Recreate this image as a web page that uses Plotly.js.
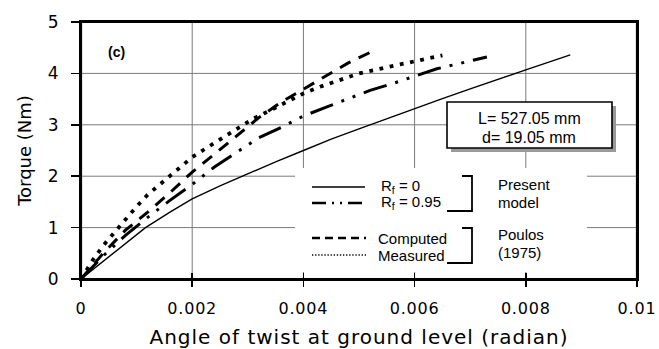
<!DOCTYPE html>
<html>
<head>
<meta charset="utf-8">
<script src="https://cdn.plot.ly/plotly-3.0.1.min.js"></script>
<style>
  html, body { margin: 0; padding: 0; background: #fff; }
  #chart { width: 659px; height: 349px; }
  .xtitle { letter-spacing: 1px; }
  .xtick text { letter-spacing: 0.8px; }
</style>
</head>
<body>
<div id="chart"></div>
<script>
// Present model, Rf = 0 (torque vs. angle of twist)
const twistRf0  = [0, 0.0004, 0.0008, 0.00116, 0.0016, 0.002, 0.0025, 0.003, 0.0035, 0.004, 0.0045, 0.005, 0.0055, 0.006, 0.0065, 0.007, 0.0075, 0.008, 0.0088];
const torqueRf0 = [0, 0.35, 0.69, 1.0, 1.3, 1.56, 1.81, 2.05, 2.28, 2.5, 2.72, 2.92, 3.12, 3.32, 3.51, 3.7, 3.89, 4.07, 4.36];

// Present model, Rf = 0.95
const twistRf95  = [0, 0.0004, 0.0008, 0.0012, 0.0016, 0.002, 0.0024, 0.0028, 0.0032, 0.0036, 0.004, 0.0044, 0.0048, 0.0052, 0.0056, 0.006, 0.0064, 0.0068, 0.0073];
const torqueRf95 = [0, 0.45, 0.85, 1.2, 1.53, 1.84, 2.18, 2.47, 2.75, 2.95, 3.17, 3.34, 3.5, 3.67, 3.8, 3.95, 4.09, 4.19, 4.32];

// Poulos (1975), computed
const twistComputed  = [0, 0.0004, 0.0008, 0.0012, 0.0016, 0.002, 0.0024, 0.0028, 0.0032, 0.0036, 0.004, 0.0044, 0.0048, 0.0053];
const torqueComputed = [0, 0.5, 0.95, 1.3, 1.68, 2.08, 2.43, 2.79, 3.14, 3.44, 3.69, 3.95, 4.2, 4.46];

// Poulos (1975), measured
const twistMeasured  = [0, 0.0002, 0.0004, 0.0006, 0.0008, 0.001, 0.0012, 0.0014, 0.0016, 0.0018, 0.002, 0.0022, 0.0025, 0.0028, 0.0031, 0.0034, 0.0037, 0.004, 0.0043, 0.0046, 0.005, 0.0055, 0.006, 0.0065];
const torqueMeasured = [0, 0.35, 0.65, 0.9, 1.17, 1.41, 1.64, 1.82, 2.0, 2.19, 2.37, 2.51, 2.72, 2.92, 3.12, 3.28, 3.45, 3.61, 3.74, 3.85, 4.0, 4.12, 4.23, 4.35];

// Axis ticks
const xTickVals  = [0, 0.002, 0.004, 0.006, 0.008, 0.01];
const xTickText  = ['0', '0.002', '0.004', '0.006', '0.008', '0.01'];
const yTickVals  = [0, 1, 2, 3, 4, 5];

// Legend entries and notes
const legendPresent = ['R<sub>f</sub> = 0', 'R<sub>f</sub> = 0.95'];
const legendPoulos  = ['Computed', 'Measured'];
const groupPresent  = ['Present', 'model'];
const groupPoulos   = ['Poulos', '(1975)'];
const pileNote      = ['L= 527.05 mm', 'd= 19.05 mm'];
const panelTag      = '(c)';

const DASHDOT2 = '24px,9px,3px,9px,3px,9px';
const LEG_DASHDOT2 = '14px,6px,2px,6px,2px,6px';
const GRID = '#7a7a7a';

// plot area in page pixels: x 81..637, y 22..279
const L = 81, R = 637, T = 22, B = 279;
const px = x => (x - L) / (R - L);
const py = y => (B - y) / (B - T);

const traces = [
  { x: twistRf0, y: torqueRf0, mode: 'lines', line: { color: '#000', width: 1.4 }, hoverinfo: 'skip' },
  { x: twistRf95, y: torqueRf95, mode: 'lines', line: { color: '#000', width: 3, dash: DASHDOT2 }, hoverinfo: 'skip' },
  { x: twistComputed, y: torqueComputed, mode: 'lines', line: { color: '#000', width: 3, dash: '12px,9px' }, hoverinfo: 'skip' },
  { x: twistMeasured, y: torqueMeasured, mode: 'lines', line: { color: '#000', width: 3.8, dash: '3.8px,6.6px' }, hoverinfo: 'skip' },
  // carries the inward half of the bottom tick marks
  { x: [], y: [], xaxis: 'x2', yaxis: 'y', mode: 'lines', hoverinfo: 'skip' }
];

const txtFont = { family: 'Liberation Sans, Arial, sans-serif', size: 15, color: '#000' };

// interior grid lines at the tick values, drawn beneath everything
const gridShapes = [
  ...xTickVals.slice(1, -1).map(v => ({ type: 'line', xref: 'x', yref: 'paper', x0: v, x1: v, y0: 0, y1: 1,
    line: { color: GRID, width: 1 }, layer: 'below' })),
  ...yTickVals.slice(1, -1).map(v => ({ type: 'line', xref: 'paper', yref: 'y', x0: 0, x1: 1, y0: v, y1: v,
    line: { color: GRID, width: 1 }, layer: 'below' }))
];

const shapes = gridShapes.concat([
  // white panel behind the legend (hides grid lines)
  { type: 'rect', xref: 'paper', yref: 'paper', x0: px(295), x1: px(587), y0: py(272), y1: py(168),
    fillcolor: '#fff', line: { width: 0 }, layer: 'below' },
  // note box with drop shadow
  { type: 'rect', xref: 'paper', yref: 'paper', x0: px(451), x1: px(616), y0: py(152), y1: py(106),
    fillcolor: '#9a9a9a', line: { width: 0 }, layer: 'below' },
  { type: 'rect', xref: 'paper', yref: 'paper', x0: px(447), x1: px(612), y0: py(148), y1: py(102),
    fillcolor: '#fff', line: { color: '#000', width: 1.6 }, layer: 'below' },
  // plot frame
  { type: 'rect', xref: 'paper', yref: 'paper', x0: 0, x1: 1, y0: 0, y1: 1,
    line: { color: '#000', width: 2.2 }, layer: 'above' },
  // legend sample lines
  { type: 'line', xref: 'paper', yref: 'paper', x0: px(312), x1: px(365), y0: py(187), y1: py(187),
    line: { color: '#000', width: 1.4 } },
  { type: 'line', xref: 'paper', yref: 'paper', x0: px(312), x1: px(366), y0: py(203), y1: py(203),
    line: { color: '#000', width: 2.6, dash: LEG_DASHDOT2 } },
  { type: 'line', xref: 'paper', yref: 'paper', x0: px(312), x1: px(366), y0: py(238), y1: py(238),
    line: { color: '#000', width: 2.6, dash: '8px,5px' } },
  { type: 'line', xref: 'paper', yref: 'paper', x0: px(312), x1: px(366), y0: py(255), y1: py(255),
    line: { color: '#000', width: 1.3, dash: '1.3px,1.8px' } },
  // group brackets
  { type: 'path', xref: 'paper', yref: 'paper',
    path: `M ${px(462)} ${py(176)} L ${px(472)} ${py(176)} L ${px(472)} ${py(211)} L ${px(447)} ${py(211)}`,
    line: { color: '#000', width: 1.8 } },
  { type: 'path', xref: 'paper', yref: 'paper',
    path: `M ${px(462)} ${py(228)} L ${px(472)} ${py(228)} L ${px(472)} ${py(263)} L ${px(447)} ${py(263)}`,
    line: { color: '#000', width: 1.8 } }
]);

const ann = (x, y, text, font, xanchor) => ({
  xref: 'paper', yref: 'paper', x: px(x), y: py(y), text: text, showarrow: false,
  xanchor: xanchor || 'left', yanchor: 'middle', font: font
});

const annotations = [
  ann(379, 187, legendPresent[0], txtFont),
  ann(379, 203, legendPresent[1], txtFont),
  ann(376, 238, legendPoulos[0], txtFont),
  ann(376, 255, legendPoulos[1], txtFont),
  ann(496, 184, groupPresent[0], txtFont),
  ann(496, 202, groupPresent[1], txtFont),
  ann(496, 234, groupPoulos[0], txtFont),
  ann(496, 252, groupPoulos[1], txtFont),
  ann(529, 118, pileNote[0], Object.assign({}, txtFont, { size: 16 }), 'center'),
  ann(529, 137, pileNote[1], Object.assign({}, txtFont, { size: 16 }), 'center'),
  ann(106, 52, panelTag, { family: 'Liberation Sans, Arial, sans-serif', size: 14, color: '#000', weight: 'bold' })
];

const axFont = { family: 'DejaVu Sans, sans-serif', size: 16, color: '#000' };

const layout = {
  width: 659, height: 349,
  margin: { l: L, r: 659 - R, t: T, b: 349 - B },
  paper_bgcolor: '#fff', plot_bgcolor: '#fff',
  showlegend: false,
  xaxis: {
    range: [0, 0.01], tickvals: xTickVals, ticktext: xTickText,
    ticks: 'outside', ticklen: 6, tickwidth: 1.5, tickcolor: '#000',
    showline: true, linecolor: '#000', linewidth: 2, mirror: true,
    showgrid: false, zeroline: false,
    tickfont: axFont, ticklabelstandoff: 8,
    title: { text: 'Angle of twist at ground level (radian)', font: { family: 'DejaVu Sans, sans-serif', size: 20, color: '#000' }, standoff: 16 }
  },
  xaxis2: {
    overlaying: 'x', anchor: 'y', side: 'bottom', range: [0, 0.01], tickvals: xTickVals,
    ticks: 'inside', ticklen: 6, tickwidth: 1.5, tickcolor: '#000',
    showticklabels: false, showgrid: false, zeroline: false, showline: false
  },
  yaxis: {
    range: [0, 5], tickvals: yTickVals,
    ticks: 'outside', ticklen: 8, tickwidth: 1.5, tickcolor: '#000',
    showline: true, linecolor: '#000', linewidth: 2, mirror: true,
    showgrid: false, zeroline: false,
    tickfont: Object.assign({}, axFont, { size: 17 }), ticklabelstandoff: 9,
    title: { text: 'Torque (Nm)', font: { family: 'DejaVu Sans, sans-serif', size: 18, color: '#000' }, standoff: 11 }
  },
  shapes: shapes,
  annotations: annotations
};

Plotly.newPlot('chart', traces, layout, { staticPlot: true, displayModeBar: false });
</script>
</body>
</html>
